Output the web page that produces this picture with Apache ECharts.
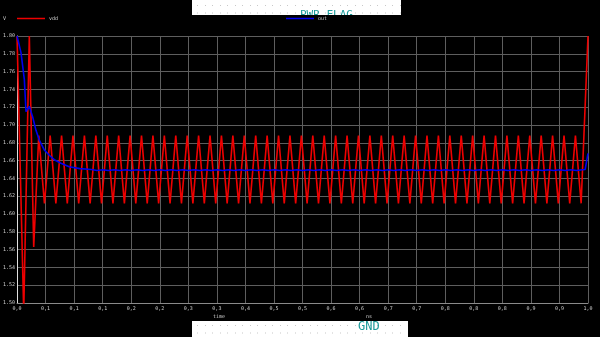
<!DOCTYPE html>
<html>
<head>
<meta charset="utf-8">
<script src="https://cdn.jsdelivr.net/npm/echarts@6/dist/echarts.min.js"></script>
<style>
html,body{margin:0;padding:0;background:#000;}
#c{width:600px;height:337px;}
</style>
</head>
<body>
<div id="c"></div>
<script>
// ---- data ----
const seriesNames = ['vdd', 'out'];

const vddTime = [0, 0.0117, 0.0215, 0.0292,
  0.038, 0.048, 0.058, 0.068, 0.078, 0.088, 0.098, 0.108, 0.118, 0.128,
  0.138, 0.148, 0.158, 0.168, 0.178, 0.188, 0.198, 0.208, 0.218, 0.228,
  0.238, 0.248, 0.258, 0.268, 0.278, 0.288, 0.298, 0.308, 0.318, 0.328,
  0.338, 0.348, 0.358, 0.368, 0.378, 0.388, 0.398, 0.408, 0.418, 0.428,
  0.438, 0.448, 0.458, 0.468, 0.478, 0.488, 0.498, 0.508, 0.518, 0.528,
  0.538, 0.548, 0.558, 0.568, 0.578, 0.588, 0.598, 0.608, 0.618, 0.628,
  0.638, 0.648, 0.658, 0.668, 0.678, 0.688, 0.698, 0.708, 0.718, 0.728,
  0.738, 0.748, 0.758, 0.768, 0.778, 0.788, 0.798, 0.808, 0.818, 0.828,
  0.838, 0.848, 0.858, 0.868, 0.878, 0.888, 0.898, 0.908, 0.918, 0.928,
  0.938, 0.948, 0.958, 0.968, 0.978, 0.988, 1.0];
const vddValue = [1.80, 1.49, 1.80, 1.563,
  1.688, 1.612, 1.688, 1.612, 1.688, 1.612, 1.688, 1.612, 1.688, 1.612,
  1.688, 1.612, 1.688, 1.612, 1.688, 1.612, 1.688, 1.612, 1.688, 1.612,
  1.688, 1.612, 1.688, 1.612, 1.688, 1.612, 1.688, 1.612, 1.688, 1.612,
  1.688, 1.612, 1.688, 1.612, 1.688, 1.612, 1.688, 1.612, 1.688, 1.612,
  1.688, 1.612, 1.688, 1.612, 1.688, 1.612, 1.688, 1.612, 1.688, 1.612,
  1.688, 1.612, 1.688, 1.612, 1.688, 1.612, 1.688, 1.612, 1.688, 1.612,
  1.688, 1.612, 1.688, 1.612, 1.688, 1.612, 1.688, 1.612, 1.688, 1.612,
  1.688, 1.612, 1.688, 1.612, 1.688, 1.612, 1.688, 1.612, 1.688, 1.612,
  1.688, 1.612, 1.688, 1.612, 1.688, 1.612, 1.688, 1.612, 1.688, 1.612,
  1.688, 1.612, 1.688, 1.612, 1.688, 1.612, 1.80];

const outTime = [0, 0.007, 0.0128, 0.0157, 0.0215, 0.0274, 0.0332, 0.039,
  0.0477, 0.0565, 0.0652, 0.0769, 0.0914, 0.11, 0.13,
  0.14, 0.15, 0.16, 0.17, 0.18, 0.19, 0.20, 0.21, 0.22, 0.23,
  0.24, 0.25, 0.26, 0.27, 0.28, 0.29, 0.30, 0.31, 0.32, 0.33,
  0.34, 0.35, 0.36, 0.37, 0.38, 0.39, 0.40, 0.41, 0.42, 0.43,
  0.44, 0.45, 0.46, 0.47, 0.48, 0.49, 0.50, 0.51, 0.52, 0.53,
  0.54, 0.55, 0.56, 0.57, 0.58, 0.59, 0.60, 0.61, 0.62, 0.63,
  0.64, 0.65, 0.66, 0.67, 0.68, 0.69, 0.70, 0.71, 0.72, 0.73,
  0.74, 0.75, 0.76, 0.77, 0.78, 0.79, 0.80, 0.81, 0.82, 0.83,
  0.84, 0.85, 0.86, 0.87, 0.88, 0.89, 0.90, 0.91, 0.92, 0.93,
  0.94, 0.95, 0.96, 0.97, 0.98, 0.99, 0.995, 1.0];
const outValue = [1.800, 1.781, 1.751, 1.715, 1.721, 1.709, 1.694, 1.683,
  1.672, 1.666, 1.661, 1.657, 1.653, 1.651, 1.650,
  1.6488, 1.6497, 1.6488, 1.6497, 1.6488, 1.6497, 1.6488, 1.6497, 1.6488, 1.6497,
  1.6488, 1.6497, 1.6488, 1.6497, 1.6488, 1.6497, 1.6488, 1.6497, 1.6488, 1.6497,
  1.6488, 1.6497, 1.6488, 1.6497, 1.6488, 1.6497, 1.6488, 1.6497, 1.6488, 1.6497,
  1.6488, 1.6497, 1.6488, 1.6497, 1.6488, 1.6497, 1.6488, 1.6497, 1.6488, 1.6497,
  1.6488, 1.6497, 1.6488, 1.6497, 1.6488, 1.6497, 1.6488, 1.6497, 1.6488, 1.6497,
  1.6488, 1.6497, 1.6488, 1.6497, 1.6488, 1.6497, 1.6488, 1.6497, 1.6488, 1.6497,
  1.6488, 1.6497, 1.6488, 1.6497, 1.6488, 1.6497, 1.6488, 1.6497, 1.6488, 1.6497,
  1.6488, 1.6497, 1.6488, 1.6497, 1.6488, 1.6497, 1.6488, 1.6497, 1.6488, 1.6497,
  1.6488, 1.6497, 1.6488, 1.6497, 1.6488, 1.6497, 1.650, 1.668];

const xTickLabels = ['0,0','0,1','0,1','0,1','0,2','0,2','0,3','0,3','0,4','0,5','0,5',
  '0,6','0,6','0,7','0,7','0,8','0,8','0,8','0,9','0,9','1,0'];
const yTickLabels = ['1.50','1.52','1.54','1.56','1.58','1.60','1.62','1.64','1.66',
  '1.68','1.70','1.72','1.74','1.76','1.78','1.80'];

const yAxisName = 'V';
const xAxisName = 'time';
const xUnit = 'ns';

// ---- chart ----
const zip = (a, b) => a.map((t, i) => [t, b[i]]);
const chart = echarts.init(document.getElementById('c'));
const FONT = 'DejaVu Sans Mono';
const TXT = '#cfcfcf';

const graphics = [];
// white boxes (schematic overlays)
graphics.push({type:'rect', z:0, shape:{x:192, y:0, width:209, height:15}, style:{fill:'#fff'}});
graphics.push({type:'rect', z:0, shape:{x:192, y:321, width:216, height:16}, style:{fill:'#fff'}});
for (let x = 197; x < 400; x += 7.5) {
  for (const y of [5, 12.5]) graphics.push({type:'rect', z:0, shape:{x:Math.round(x), y:y, width:1, height:1}, style:{fill:'#c8c8c8'}});
}
for (let x = 197; x < 407; x += 7.5) {
  for (const y of [325, 332.5]) graphics.push({type:'rect', z:0, shape:{x:Math.round(x), y:y, width:1, height:1}, style:{fill:'#c8c8c8'}});
}
graphics.push({type:'text', z:0, left:300, top:10, style:{text:'PWR_FLAG', fill:'#1a9a9a', font:'11px "DejaVu Sans Mono"'}});
graphics.push({type:'rect', z:1, shape:{x:290, y:15, width:80, height:12}, style:{fill:'#000'}});
graphics.push({type:'text', z:0, left:358, top:321, style:{text:'GND', fill:'#1a9a9a', font:'12px "DejaVu Sans Mono"'}});
graphics.push({type:'text', z:3, left:3, top:16, style:{text:yAxisName, fill:TXT, font:'5px "DejaVu Sans Mono"'}});
graphics.push({type:'text', z:3, left:213, top:314, style:{text:xAxisName, fill:TXT, font:'5px "DejaVu Sans Mono"'}});
graphics.push({type:'text', z:3, left:366, top:314, style:{text:xUnit, fill:TXT, font:'5px "DejaVu Sans Mono"'}});

const legendBase = {itemWidth:28, itemHeight:1.5, itemGap:4, icon:'rect', padding:0, top:16,
  textStyle:{color:TXT, fontSize:5, fontFamily:FONT, padding:[0,0,0,-1]}, z:5};

chart.setOption({
  backgroundColor: '#000',
  animation: false,
  grid: {left:16, right:12, top:36, bottom:34},
  legend: [
    Object.assign({}, legendBase, {data:[seriesNames[0]], left:17}),
    Object.assign({}, legendBase, {data:[seriesNames[1]], left:286})
  ],
  xAxis: {
    type:'value', min:0, max:1, interval:0.05,
    axisLine:{show:true, onZero:false, lineStyle:{color:'#8a8a8a', width:1}},
    axisTick:{show:false},
    splitLine:{show:true, lineStyle:{color:'#5e5e5e', width:1}},
    axisLabel:{color:TXT, fontSize:5, fontFamily:FONT, margin:3, hideOverlap:false,
      formatter: v => xTickLabels[Math.round(v / 0.05)]}
  },
  yAxis: {
    type:'value', min:1.50, max:1.80, interval:0.02,
    axisLine:{show:true, onZero:false, lineStyle:{color:'#e0e0e0', width:1}},
    axisTick:{show:false},
    splitLine:{show:true, lineStyle:{color:'#5e5e5e', width:1}},
    axisLabel:{color:TXT, fontSize:5, fontFamily:FONT, margin:2, hideOverlap:false,
      formatter: v => yTickLabels[Math.round((v - 1.5) / 0.02)]}
  },
  series: [
    {name:seriesNames[0], type:'line', data:zip(vddTime, vddValue), showSymbol:false, symbol:'none',
     lineStyle:{color:'#ee0000', width:1.6}, itemStyle:{color:'#ee0000'}, clip:true},
    {name:seriesNames[1], type:'line', data:zip(outTime, outValue), showSymbol:false, symbol:'none',
     lineStyle:{color:'#0000ee', width:1.6}, itemStyle:{color:'#0000ee'}, clip:true}
  ],
  graphic: graphics
});
</script>
</body>
</html>
